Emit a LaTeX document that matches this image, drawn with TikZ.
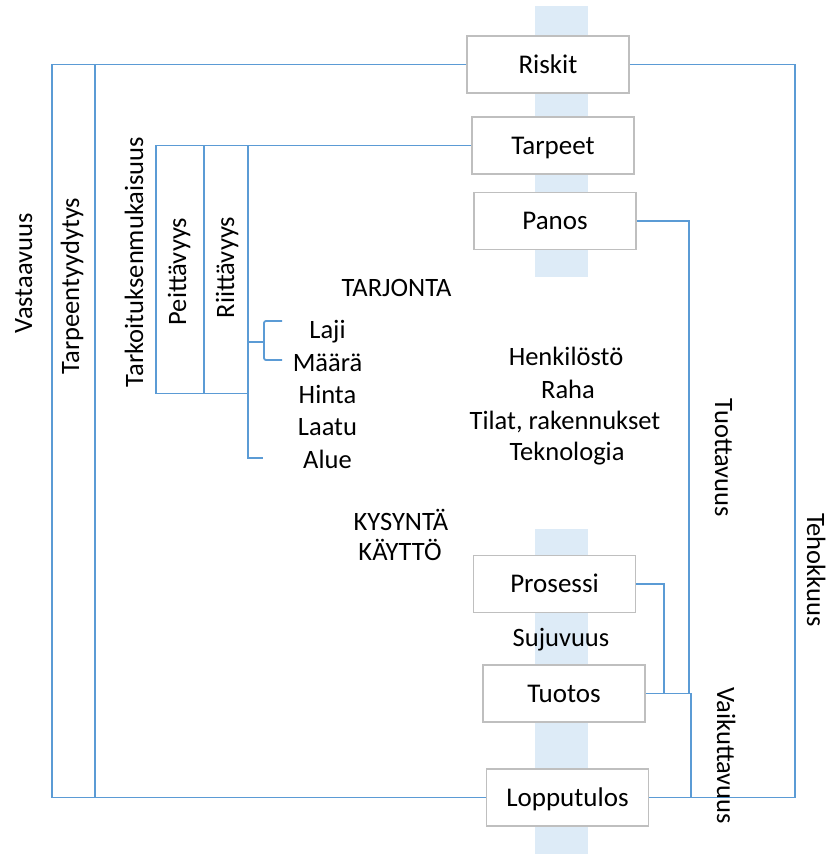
\documentclass[tikz,border=0pt]{standalone}
\usepackage{fontspec}
\setmainfont{Carlito}
\usetikzlibrary{calc}
\definecolor{linkblue}{HTML}{5B9BD5}
\definecolor{barblue}{HTML}{DDEBF7}
\definecolor{boxgray}{HTML}{BFBFBF}
\tikzset{
  conn/.style={draw=linkblue, line width=1.8pt},
  stage/.style={draw=boxgray, line width=1.6pt, fill=white, minimum width=162pt, minimum height=57pt,
    inner sep=0pt, text height=18pt, text depth=1pt, font=\fontsize{27}{32}\selectfont},
  lbl/.style={inner sep=0pt, anchor=base, font=\fontsize{26.5}{32}\selectfont},
  uplbl/.style={lbl, rotate=90},
  downlbl/.style={lbl, rotate=-90},
}
\begin{document}
\begin{tikzpicture}[x=1pt, y=-1pt]
\useasboundingbox (0,0) rectangle (826,854);
% pale vertical bands behind the stage boxes
\fill[barblue] (535,6) rectangle (588,277);
\fill[barblue] (535,529) rectangle (588,854);

% stage boxes
\node[stage] (riskit) at (548,64.5) {Riskit};
\node[stage] (tarpeet) at (553,145.5) {Tarpeet};
\node[stage] (panos) at (555,221) {Panos};
\node[stage] (prosessi) at (554.5,584) {Prosessi};
\node[stage] (tuotos) at (564,693.5) {Tuotos};
\node[stage] (lopputulos) at (567.5,797.5) {Lopputulos};

% helper points
\coordinate (xo) at (52,0);
\coordinate (xt) at (95,0);
\coordinate (xr) at (795,0);
\coordinate (xk) at (156,0);
\coordinate (xp) at (204,0);
\coordinate (xi) at (248,0);
\coordinate (ypk) at (0,393.5);
\coordinate (yal) at (0,458);
\coordinate (ylm) at (0,342);
\coordinate (xpan) at (689,0);
\coordinate (xpro) at (664,0);
\coordinate (xtuo) at (691,0);

% outer frame: Riskit -> Lopputulos
\draw[conn] (riskit.west) -- (riskit.west -| xo) -- (lopputulos.west -| xo) -- (lopputulos.west);
\draw[conn] (riskit.east) -- (riskit.east -| xr) -- (lopputulos.east -| xr) -- (lopputulos.east);
\draw[conn] (riskit.west -| xt) -- (lopputulos.west -| xt);

% Tarpeet branch
\draw[conn] (tarpeet.west) -- (tarpeet.west -| xk) -- (ypk -| xk) -- (ypk -| xi);
\draw[conn] (tarpeet.west -| xp) -- (ypk -| xp);
\draw[conn] (tarpeet.west -| xi) -- (yal -| xi) -- +(15,0);
\draw[conn] (ylm -| xi) -- +(16,0) coordinate (brk);
\draw[conn, rounded corners=2pt] ($(brk)+(18,-21)$) -- ($(brk)+(0,-21)$) -- ($(brk)+(0,18)$) -- ($(brk)+(18,18)$);

% right side branches
\draw[conn] (panos.east) -- (panos.east -| xpan) -- (tuotos.east -| xpan);
\draw[conn] (prosessi.east) -- (prosessi.east -| xpro) -- (tuotos.east -| xpro);
\draw[conn] (tuotos.east) -- (tuotos.east -| xtuo) -- (lopputulos.east -| xtuo);

% vertical labels (anchored on their baselines)
\node[uplbl] (vast) at (32,273.5) {Vastaavuus};
\node[uplbl] (tarpe) at (79,286) {Tarpeentyydytys};
\node[uplbl] (tarko) at (143,262) {Tarkoituksenmukaisuus};
\node[uplbl] (peit) at (186,271.5) {Peittävyys};
\node[uplbl] (riit) at (234,267.5) {Riittävyys};
\node[downlbl] (tuot) at (715,458) {Tuottavuus};
\node[downlbl] (teho) at (807,570) {Tehokkuus};
\node[downlbl] (vaik) at (717,755.5) {Vaikuttavuus};

% horizontal labels (anchored on their baselines)
\node[lbl] (tarjonta) at (396.5,296.5) {TARJONTA};
\node[lbl] (laji) at (327.5,338) {Laji};
\node[lbl] (maara) at (327.5,371.5) {Määrä};
\node[lbl] (hinta) at (327.5,403.5) {Hinta};
\node[lbl] (laatu) at (327.5,435.5) {Laatu};
\node[lbl] (alue) at (327.5,468) {Alue};
\node[lbl] (henk) at (566,365) {Henkilöstö};
\node[lbl] (raha) at (568,398) {Raha};
\node[lbl] (tilat) at (565,429.5) {Tilat, rakennukset};
\node[lbl] (tekno) at (567,460) {Teknologia};
\node[lbl] (kysynta) at (401,530) {KYSYNTÄ};
\node[lbl] (kaytto) at (400,560) {KÄYTTÖ};
\node[lbl] (suju) at (561,646.5) {Sujuvuus};
\end{tikzpicture}
\end{document}
